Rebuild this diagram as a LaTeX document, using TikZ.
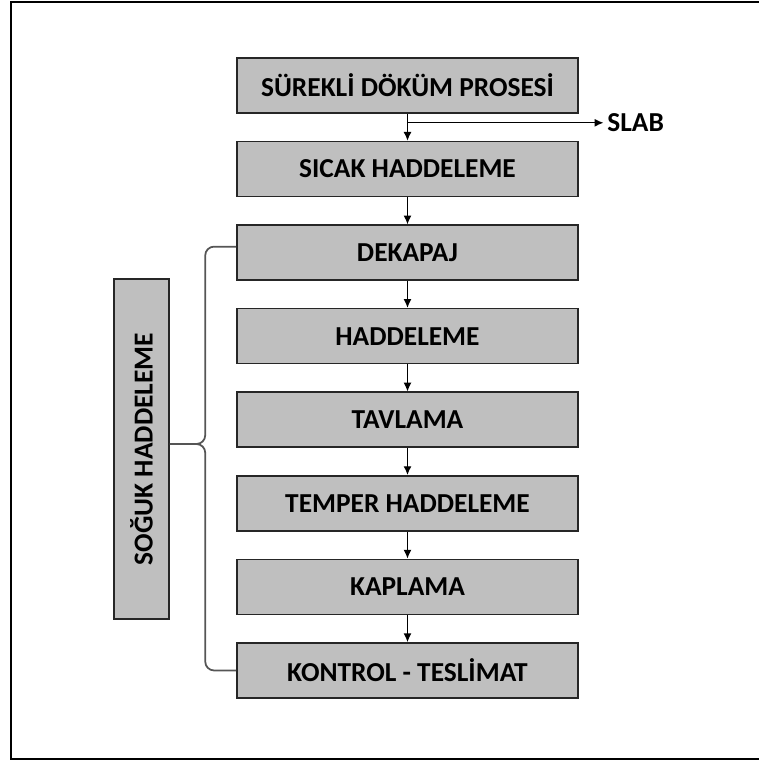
\documentclass[tikz,border=0pt]{standalone}
\usepackage{fontspec}
\setmainfont{Carlito}
\usepackage{tikz}
\usetikzlibrary{arrows.meta, positioning, calc}
\definecolor{boxgray}{RGB}{191,191,191}
\definecolor{boxedge}{RGB}{38,38,38}
\definecolor{bracegray}{RGB}{85,85,85}
\tikzset{
  stepbox/.style={rectangle, draw=boxedge, fill=boxgray,
    minimum width=6.82cm, minimum height=1.1cm, inner sep=0pt,
    font=\bfseries\fontsize{15.6}{17}\selectfont, line width=0.9pt},
  sidebox/.style={rectangle, draw=boxedge, fill=boxgray, rotate=90,
    minimum width=6.8cm, minimum height=1.1cm, inner sep=0pt,
    font=\bfseries\fontsize{15.6}{17}\selectfont, line width=0.9pt},
  arrow/.style={-{Latex[length=5pt, width=4.5pt]}, line width=0.7pt, color=black},
  brace/.style={rounded corners=5pt, line width=1pt, color=bracegray},
  frame/.style={line width=1.6pt, color=black}
}

\begin{document}
\begin{tikzpicture}[x=0.02cm, y=-0.02cm, node distance=0.54cm]
  \useasboundingbox (0,0) rectangle (758,761);
  \draw[frame] (11,2) rectangle (800,759);

  % ── Main column (top to bottom) ─────────────────────────────────────────
  \node[stepbox] (dokum) at (407.5,85.5) {SÜREKLİ DÖKÜM PROSESİ};
  \node[stepbox, below=of dokum]   (sicak)   {SICAK HADDELEME};
  \node[stepbox, below=of sicak]   (dekapaj) {DEKAPAJ};
  \node[stepbox, below=of dekapaj] (hadde)   {HADDELEME};
  \node[stepbox, below=of hadde]   (tavlama) {TAVLAMA};
  \node[stepbox, below=of tavlama] (temper)  {TEMPER HADDELEME};
  \node[stepbox, below=of temper]  (kaplama) {KAPLAMA};
  \node[stepbox, below=of kaplama] (kontrol) {KONTROL - TESLİMAT};

  % ── Flow arrows ─────────────────────────────────────────────────────────
  \draw[arrow] (dokum)   -- (sicak);
  \draw[arrow] (sicak)   -- (dekapaj);
  \draw[arrow] (dekapaj) -- (hadde);
  \draw[arrow] (hadde)   -- (tavlama);
  \draw[arrow] (tavlama) -- (temper);
  \draw[arrow] (temper)  -- (kaplama);
  \draw[arrow] (kaplama) -- (kontrol);

  % ── Slab branch ─────────────────────────────────────────────────────────
  \coordinate (slabtap) at ($(dokum.south)+(0,9)$);
  \node[anchor=west, inner sep=2pt, font=\bfseries\fontsize{15.6}{17}\selectfont]
    (slab) at ($(slabtap)+(196,0)$) {SLAB};
  \draw[arrow] (slabtap) -- (slab.west);

  % ── Cold rolling group ──────────────────────────────────────────────────
  \node[sidebox] (soguk) at (141.5,449) {SOĞUK HADDELEME};
  \coordinate (tip) at ($(soguk.south)+(0,-5)$);
  \draw[brace] ($(dekapaj.west)+(0,-6)$) -- ++(-31,0) |- (tip);
  \draw[brace] (kontrol.west) -- ++(-31,0) |- (tip);
\end{tikzpicture}
\end{document}
